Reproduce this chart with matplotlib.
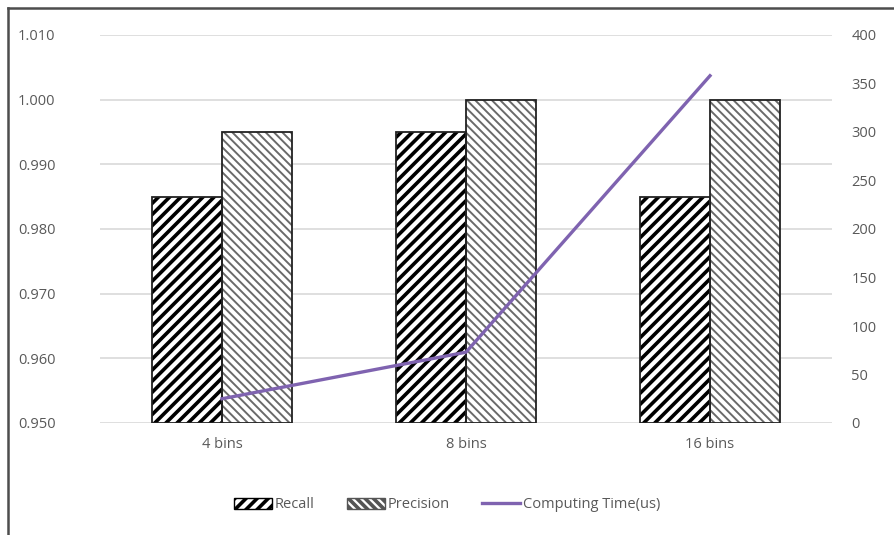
import numpy as np
import matplotlib.pyplot as plt
from matplotlib.lines import Line2D
from matplotlib.patches import Patch

categories = ["4 bins", "8 bins", "16 bins"]
recall = [0.985, 0.995, 0.985]
precision = [0.995, 1.000, 1.000]
computing_time = [25, 73, 358]

left_ticks = [0.950, 0.960, 0.970, 0.980, 0.990, 1.000, 1.010]
right_ticks = [0, 50, 100, 150, 200, 250, 300, 350, 400]

plt.rcParams['font.family'] = ['Open Sans', 'DejaVu Sans']
plt.rcParams['hatch.linewidth'] = 2.6

text_color = "#595959"
grid_color = "#d9d9d9"
line_color = "#7f63b0"
prec_hatch = "\\\\\\\\"

fig = plt.figure(figsize=(8.94, 5.35), dpi=100)
ax = fig.add_axes([100 / 894, 112 / 535, 732 / 894, 388 / 535])

x = np.arange(len(categories))
w = 0.287

# recall bars: thick black diagonal hatch
rb = ax.bar(x - w / 2, np.array(recall) - 0.95, w, bottom=0.95,
            color="white", edgecolor="black", hatch="///", linewidth=0, zorder=2)
# precision bars: fine gray back-diagonal hatch
pb = ax.bar(x + w / 2, np.array(precision) - 0.95, w, bottom=0.95,
            color="white", edgecolor="#6a6a6a", hatch=prec_hatch, linewidth=0, zorder=2)
for p in pb:
    if hasattr(p, "set_hatch_linewidth"):
        p.set_hatch_linewidth(1.4)
# outlines
ax.bar(x - w / 2, np.array(recall) - 0.95, w, bottom=0.95, fill=False,
       edgecolor="#222222", linewidth=1.3, zorder=3)
ax.bar(x + w / 2, np.array(precision) - 0.95, w, bottom=0.95, fill=False,
       edgecolor="#222222", linewidth=1.3, zorder=3)

ax.set_ylim(0.95, 1.01)
ax.set_xlim(-0.5, len(categories) - 0.5)
ax.set_yticks(left_ticks)
ax.set_yticklabels([f"{v:.3f}" for v in left_ticks])
ax.set_xticks(x)
ax.set_xticklabels(categories)
ax.yaxis.grid(True, color=grid_color, linewidth=1.2, zorder=0)
ax.set_axisbelow(True)
for s in ax.spines.values():
    s.set_visible(False)
ax.tick_params(axis="both", length=0, colors=text_color, labelsize=10.5)
ax.tick_params(axis="y", pad=32)
ax.tick_params(axis="x", pad=10)

ax2 = ax.twinx()
ax2.plot(x, computing_time, color=line_color, linewidth=2.4, zorder=4)
ax2.set_ylim(0, 400)
ax2.set_yticks(right_ticks)
for s in ax2.spines.values():
    s.set_visible(False)
ax2.tick_params(axis="y", length=0, colors=text_color, labelsize=10.5, pad=14)

rh = Patch(facecolor="white", edgecolor="black", hatch="///", linewidth=1.0)
ph = Patch(facecolor="white", edgecolor="#555555", hatch=prec_hatch, linewidth=1.0)
if hasattr(ph, "set_hatch_linewidth"):
    ph.set_hatch_linewidth(1.2)
handles = [rh, ph, Line2D([0], [0], color=line_color, linewidth=2.4)]
leg = fig.legend(handles, ["Recall", "Precision", "Computing Time(us)"],
                 loc="center", bbox_to_anchor=(0.5, 30 / 535), ncol=3,
                 frameon=False, fontsize=10.5, handlelength=2.6,
                 handletextpad=0.2, columnspacing=2.2)
for t in leg.get_texts():
    t.set_color(text_color)

# outer chart border (top and left)
fig.add_artist(Line2D([8 / 894, 8 / 894], [0, 1 - 8 / 535],
                      transform=fig.transFigure, color="#4d4d4d", linewidth=1.8))
fig.add_artist(Line2D([8 / 894, 1], [1 - 8 / 535, 1 - 8 / 535],
                      transform=fig.transFigure, color="#4d4d4d", linewidth=1.8))

fig.savefig("out.png", dpi=100)
